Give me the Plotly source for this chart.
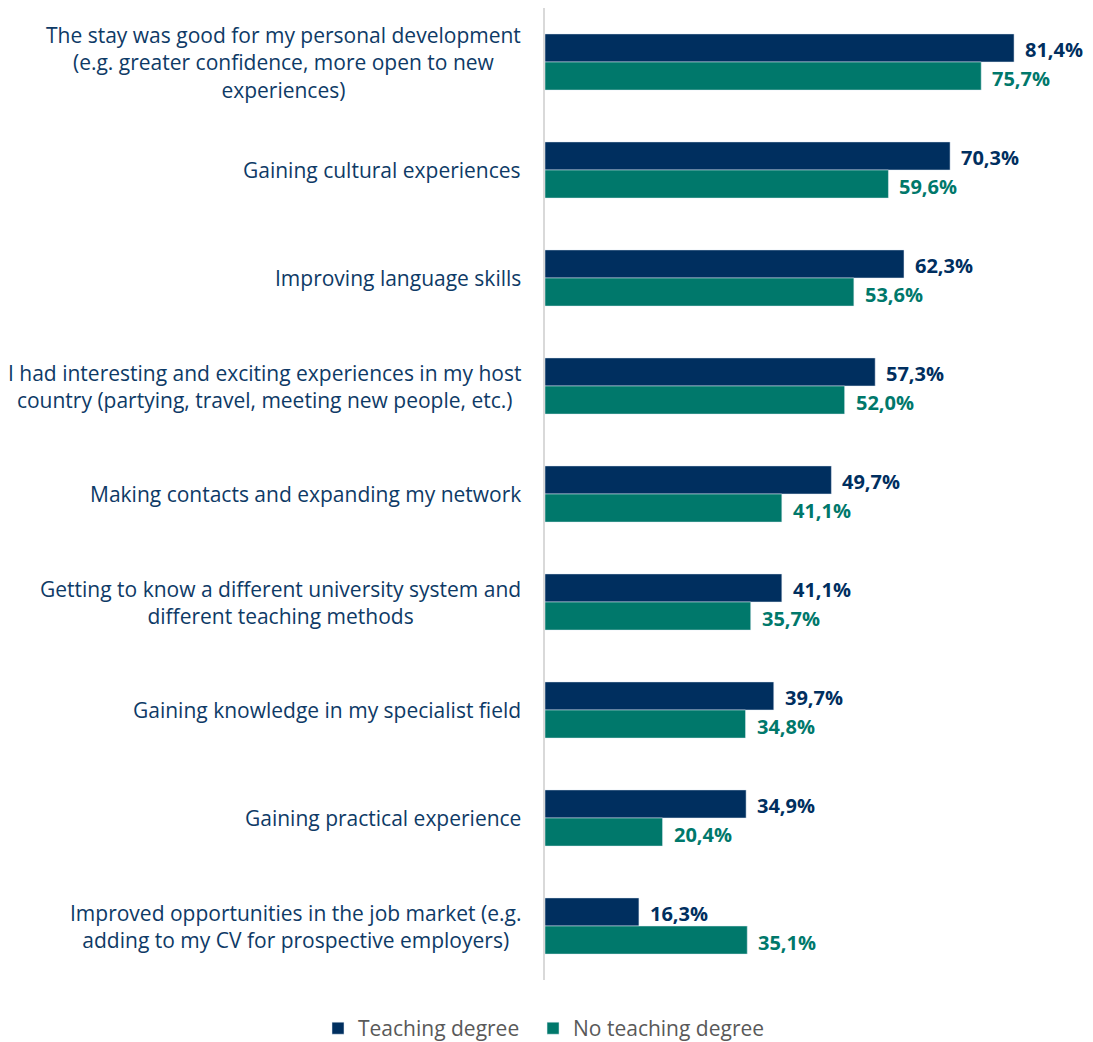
import plotly.graph_objects as go

# categories (top to bottom) and the two series, in %
categories = [
    "The stay was good for my personal development<br>(e.g. greater confidence, more open to new<br>experiences)",
    "Gaining cultural experiences",
    "Improving language skills",
    "I had interesting and exciting experiences in my host<br>country (partying, travel, meeting new people, etc.)",
    "Making contacts and expanding my network",
    "Getting to know a different university system and<br>different teaching methods",
    "Gaining knowledge in my specialist field",
    "Gaining practical experience",
    "Improved opportunities in the job market (e.g.<br>adding to my CV for prospective employers)",
]
teaching = [81.4, 70.3, 62.3, 57.3, 49.7, 41.1, 39.7, 34.9, 16.3]
no_teaching = [75.7, 59.6, 53.6, 52.0, 41.1, 35.7, 34.8, 20.4, 35.1]

navy = "#002F5F"
teal = "#00786B"
font = "Open Sans"


def fmt(v):
    return f"{v:.1f}%".replace(".", ",")


fig = go.Figure()
fig.add_trace(go.Bar(y=categories, x=teaching, orientation="h",
                     name="Teaching degree", marker=dict(color=navy),
                     legend="legend", showlegend=True))
fig.add_trace(go.Bar(y=categories, x=no_teaching, orientation="h",
                     name="No teaching degree", marker=dict(color=teal),
                     legend="legend2", showlegend=True))

# category labels as annotations so multi-line text can be centred
for c in categories:
    fig.add_annotation(
        x=0, xref="paper", y=c, yref="y", text=c, showarrow=False,
        xanchor="right", align="center", xshift=-22,
        font=dict(family=font, size=21, color="#0E3A66"),
    )

# value labels just past the bar ends
for c, v in zip(categories, teaching):
    fig.add_annotation(x=v, y=c, text=fmt(v), showarrow=False,
                       xanchor="left", xshift=9, yshift=13,
                       font=dict(family=font, size=20, color=navy, weight="bold"))
for c, v in zip(categories, no_teaching):
    fig.add_annotation(x=v, y=c, text=fmt(v), showarrow=False,
                       xanchor="left", xshift=9, yshift=-16,
                       font=dict(family=font, size=20, color=teal, weight="bold"))

legend_style = dict(orientation="h", xref="container", yref="container",
                    y=0.013, xanchor="left", yanchor="middle",
                    font=dict(family=font, size=21, color="#595959"),
                    itemwidth=30, visible=True)

fig.update_layout(
    width=1085, height=1034,
    margin=dict(l=537, r=0, t=0, b=62),
    barmode="group", bargap=0.48, bargroupgap=0,
    plot_bgcolor="white", paper_bgcolor="white",
    font=dict(family=font),
    showlegend=True,
    xaxis=dict(range=[0, 95.1], visible=False, showgrid=False),
    yaxis=dict(autorange="reversed", showticklabels=False, showgrid=False,
               showline=True, linecolor="#D9D9D9", linewidth=2, ticks=""),
    legend=dict(x=0.2857, **legend_style),
    legend2=dict(x=0.4839, **legend_style),
)

fig.write_html("out.html")
